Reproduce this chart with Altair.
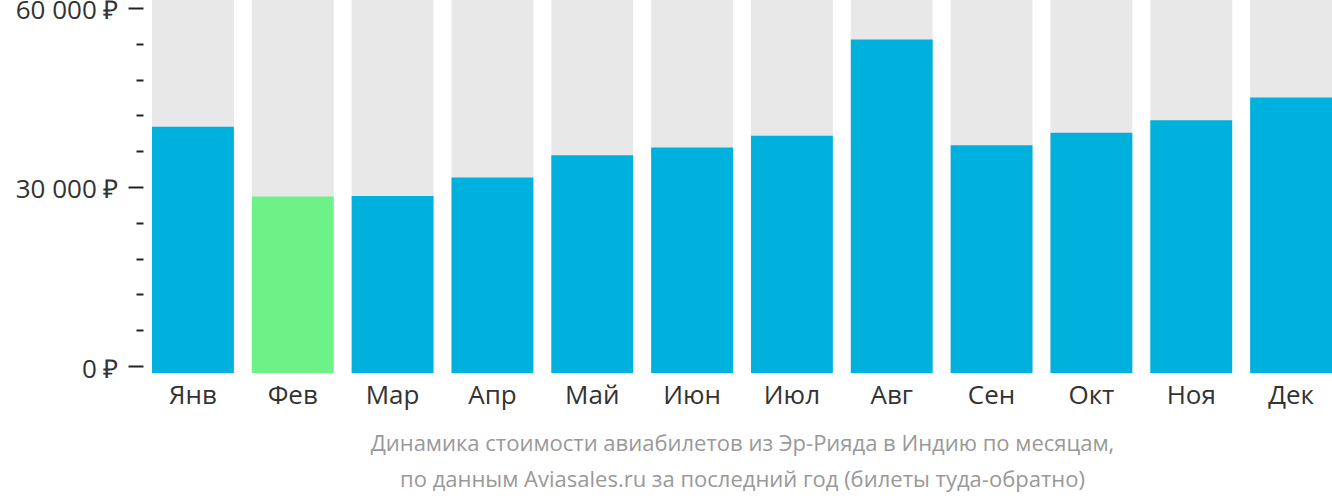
import altair as alt
import pandas as pd

months = ["Янв", "Фев", "Мар", "Апр", "Май", "Июн", "Июл", "Авг", "Сен", "Окт", "Ноя", "Дек"]
prices = [40100, 28400, 28500, 31600, 35300, 36600, 38600, 54700, 37000, 39100, 41200, 45000]
cheapest = "Фев"
BASE = -1173
TOP = 61340
tick_values = [0, 6000, 12000, 18000, 24000, 30000, 36000, 42000, 48000, 54000, 60000]
title_lines = [
    "Динамика стоимости авиабилетов из Эр-Рияда в Индию по месяцам,",
    "по данным Aviasales.ru за последний год (билеты туда-обратно)",
]

df = pd.DataFrame({
    "month": months,
    "price": prices,
    "base": [BASE] * len(months),
    "top": [TOP] * len(months),
    "cheap": [m == cheapest for m in months],
})

FONT = "Open Sans"

x = alt.X(
    "month:N", sort=months,
    scale=alt.Scale(paddingInner=0.18, paddingOuter=0),
    axis=alt.Axis(
        title=title_lines, titleFontSize=22, titleColor="#999999", titleFontWeight="normal",
        titleFont=FONT, titleLineHeight=36, titlePadding=25,
        labelFontSize=26, labelColor="#333333", labelFont=FONT, labelPadding=9,
        ticks=False, domain=False, labelAngle=0,
    ),
)
yscale = alt.Scale(domain=[BASE, TOP], nice=False, zero=False)

bg = alt.Chart(df).mark_bar(color="#e8e8e8").encode(
    x=x,
    y=alt.Y("top:Q", scale=yscale, axis=alt.Axis(
        values=tick_values, tickCount=len(tick_values) + 5, labelOverlap=False,
        labelExpr="datum.value % 30000 === 0 ? replace(format(datum.value, ',d'), ',', ' ') + ' ₽' : ''",
        tickSize={"expr": "datum.value % 30000 === 0 ? 15 : 7"},
        tickColor="#222222", tickWidth=2, offset=9,
        labelFontSize=26, labelColor="#333333", labelFont=FONT, labelPadding=10,
        labelOffset=3, labelBound=False,
        domain=False, grid=False, title=None,
    )),
    y2="base:Q",
)

fg = alt.Chart(df).mark_bar().encode(
    x=x,
    y=alt.Y("price:Q", scale=yscale),
    y2="base:Q",
    color=alt.Color("cheap:N", scale=alt.Scale(domain=[False, True], range=["#00b1dd", "#6cf287"]), legend=None),
)

chart = (bg + fg).properties(
    width=1180, height=373,
    autosize=alt.AutoSizeParams(type="none"),
    padding={"left": 152, "top": 0, "right": 0, "bottom": 129},
).configure_view(stroke=None)

chart.save("out.html", embed_options={"renderer": "svg", "actions": False})
